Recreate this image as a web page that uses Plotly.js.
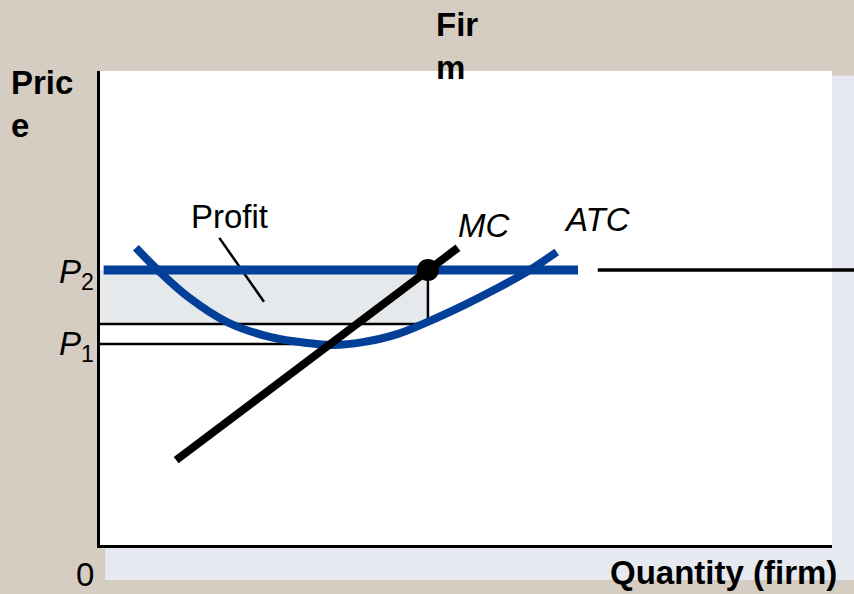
<!DOCTYPE html>
<html>
<head>
<meta charset="utf-8">
<script src="https://cdn.plot.ly/plotly-3.0.1.min.js"></script>
<style>html,body{margin:0;padding:0;background:#d6cdc2;}#chart{width:854px;height:594px;}</style>
</head>
<body>
<div id="chart"></div>
<script>
// Values (quantity 0-100, price 0-100 units)
const atcQ = [4.9, 7.9, 11.9, 17.4, 23.2, 28.3, 31.9, 35.9, 40.6, 45.1, 49.6, 54.2, 58.7, 62.4];
const atcP = [62.7, 58.0, 52.5, 47.0, 43.9, 42.6, 42.2, 42.8, 44.5, 47.3, 50.5, 54.1, 58.0, 61.8];
const mcQ = [10.4, 48.9];
const mcP = [17.9, 62.7];
const priceP2 = 58;
const priceP1 = 42.4;
const qStar = 44.8;
const atcAtQStar = 46.6;
const p2LineQ = [0.5, 65.3];
const p1LineQ = [0, 31.2];
const pointerQ = [16.3, 22.4];
const pointerP = [64.8, 51.3];
const industryLineX = [0.68, 1.04]; // paper fraction, extends into industry panel

const BLUE = '#023f98';
const FONT = 'Liberation Sans, Arial, Helvetica, sans-serif';

const traces = [
  { // profit rectangle fill
    x: [0, qStar, qStar, 0, 0],
    y: [priceP2, priceP2, atcAtQStar, atcAtQStar, priceP2],
    mode: 'lines', fill: 'toself', fillcolor: '#e6e9ec',
    line: {width: 0, color: 'rgba(0,0,0,0)'}, hoverinfo: 'skip'
  },
  { // rectangle border (bottom and right)
    x: [0, qStar, qStar], y: [atcAtQStar, atcAtQStar, priceP2],
    mode: 'lines', line: {color: '#000', width: 2.5}, hoverinfo: 'skip'
  },
  { // P1 line
    x: p1LineQ, y: [priceP1, priceP1],
    mode: 'lines', line: {color: '#000', width: 2.5}, hoverinfo: 'skip'
  },
  { // Profit pointer
    x: pointerQ, y: pointerP,
    mode: 'lines', line: {color: '#000', width: 2.5}, hoverinfo: 'skip'
  },
  { // ATC
    x: atcQ, y: atcP, mode: 'lines',
    line: {color: BLUE, width: 8, shape: 'spline', smoothing: 1}, hoverinfo: 'skip'
  },
  { // P2 price line
    x: p2LineQ, y: [priceP2, priceP2], mode: 'lines',
    line: {color: BLUE, width: 9}, hoverinfo: 'skip'
  },
  { // MC
    x: mcQ, y: mcP, mode: 'lines',
    line: {color: '#000', width: 8}, hoverinfo: 'skip'
  },
  { // equilibrium dot
    x: [qStar], y: [priceP2], mode: 'markers',
    marker: {color: '#000', size: 22}, hoverinfo: 'skip', cliponaxis: false
  }
];

function ann(text, x, y, xanchor, opts) {
  return Object.assign({
    text: text, x: x, y: y, xref: 'paper', yref: 'paper',
    xanchor: xanchor, yanchor: 'middle', showarrow: false, align: xanchor === 'right' ? 'right' : 'left',
    font: {family: FONT, size: 33, color: '#000'}
  }, opts || {});
}

const layout = {
  width: 854, height: 594,
  margin: {l: 100, r: 22, t: 71, b: 49, pad: 0},
  paper_bgcolor: '#d6cdc2',
  plot_bgcolor: 'rgba(0,0,0,0)',
  showlegend: false,
  xaxis: {range: [0, 100], showline: true, linecolor: '#000', linewidth: 3, showgrid: false,
          zeroline: false, showticklabels: false, ticks: '', fixedrange: true},
  yaxis: {range: [0, 100], showline: true, linecolor: '#000', linewidth: 3, showgrid: false,
          zeroline: false, showticklabels: false, ticks: '', fixedrange: true},
  shapes: [
    {type: 'rect', xref: 'paper', yref: 'paper', x0: 0.007, x1: 1.05, y0: -0.074, y1: 0.99,
     fillcolor: '#e6e9ef', line: {width: 0}, layer: 'below'},
    {type: 'rect', xref: 'paper', yref: 'paper', x0: 0, x1: 1, y0: 0, y1: 1,
     fillcolor: '#ffffff', line: {width: 0}, layer: 'below'},
    {type: 'line', xref: 'paper', yref: 'y', x0: industryLineX[0], x1: industryLineX[1],
     y0: priceP2, y1: priceP2, line: {color: '#000', width: 3.5}}
  ],
  annotations: [
    ann('<b>Pric<br>e</b>', -0.125, 0.93, 'left'),
    ann('<b>Fir<br>m</b>', 0.456, 1.052, 'left'),
    ann('Profit', 0.121, 0.692, 'left'),
    ann('<i>MC</i>', 0.486, 0.675, 'left'),
    ann('<i>ATC</i>', 0.631, 0.686, 'left'),
    ann('<i>P</i><sub>2</sub>', -0.005, 0.571, 'right'),
    ann('<i>P</i><sub>1</sub>', -0.005, 0.42, 'right'),
    ann('0', -0.0205, -0.063, 'center'),
    ann('<b>Quantity (firm)</b>', 1.01, -0.059, 'right')
  ]
};

Plotly.newPlot('chart', traces, layout, {staticPlot: true, displayModeBar: false});
</script>
</body>
</html>
